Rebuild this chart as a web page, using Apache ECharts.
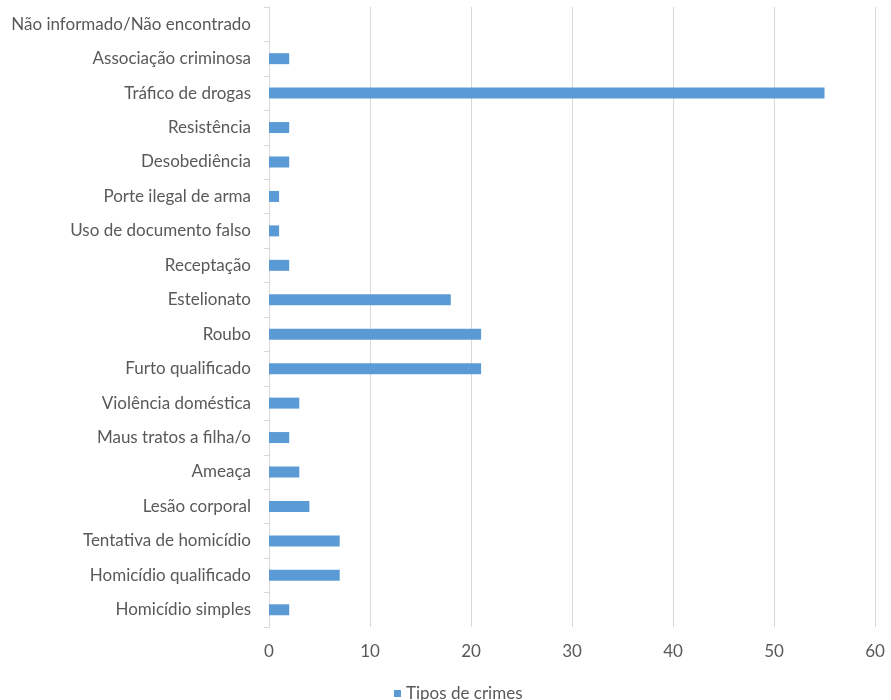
<!DOCTYPE html>
<html>
<head>
<meta charset="utf-8">
<script src="https://cdn.jsdelivr.net/npm/echarts@6/dist/echarts.min.js"></script>
<style>
  html, body { margin: 0; padding: 0; background: #fff; }
  #chart { width: 891px; height: 700px; }
</style>
</head>
<body>
<div id="chart"></div>
<script>
// categories listed bottom to top, as the y axis draws them
const categories = [
  'Homicídio simples',
  'Homicídio qualificado',
  'Tentativa de homicídio',
  'Lesão corporal',
  'Ameaça',
  'Maus tratos a filha/o',
  'Violência doméstica',
  'Furto qualificado',
  'Roubo',
  'Estelionato',
  'Receptação',
  'Uso de documento falso',
  'Porte ilegal de arma',
  'Desobediência',
  'Resistência',
  'Tráfico de drogas',
  'Associação criminosa',
  'Não informado/Não encontrado'
];
const crimeCounts = [2, 7, 7, 4, 3, 2, 3, 21, 21, 18, 2, 1, 1, 2, 2, 55, 2, 0];
const seriesName = 'Tipos de crimes';
const xTicks = { min: 0, max: 60, interval: 10 };

const textColor = '#595959';
const gridColor = '#d9d9d9';
const font = 'Lato, "Open Sans", sans-serif';

const chart = echarts.init(document.getElementById('chart'));

chart.setOption({
  animation: false,
  textStyle: { fontFamily: font },
  grid: { left: 269, right: 16, top: 7, bottom: 73, containLabel: false },
  legend: {
    data: [seriesName],
    left: 389,
    top: 680,
    icon: 'rect',
    itemWidth: 7,
    itemHeight: 7,
    itemGap: 6,
    textStyle: { color: textColor, fontSize: 17, fontFamily: font }
  },
  xAxis: {
    type: 'value',
    min: xTicks.min,
    max: xTicks.max,
    interval: xTicks.interval,
    axisLine: { show: false },
    axisTick: { show: false },
    axisLabel: { color: textColor, fontSize: 17, margin: 16, fontFamily: font },
    splitLine: { show: true, lineStyle: { color: gridColor, width: 1 } }
  },
  yAxis: {
    type: 'category',
    data: categories,
    axisLine: { show: true, lineStyle: { color: gridColor, width: 1 } },
    axisTick: { show: true, length: 5, lineStyle: { color: gridColor } },
    axisLabel: { color: textColor, fontSize: 17, margin: 18, fontFamily: font }
  },
  series: [{
    name: seriesName,
    type: 'bar',
    data: crimeCounts,
    barWidth: 11,
    itemStyle: { color: '#5b9bd5' }
  }]
});
</script>
</body>
</html>
